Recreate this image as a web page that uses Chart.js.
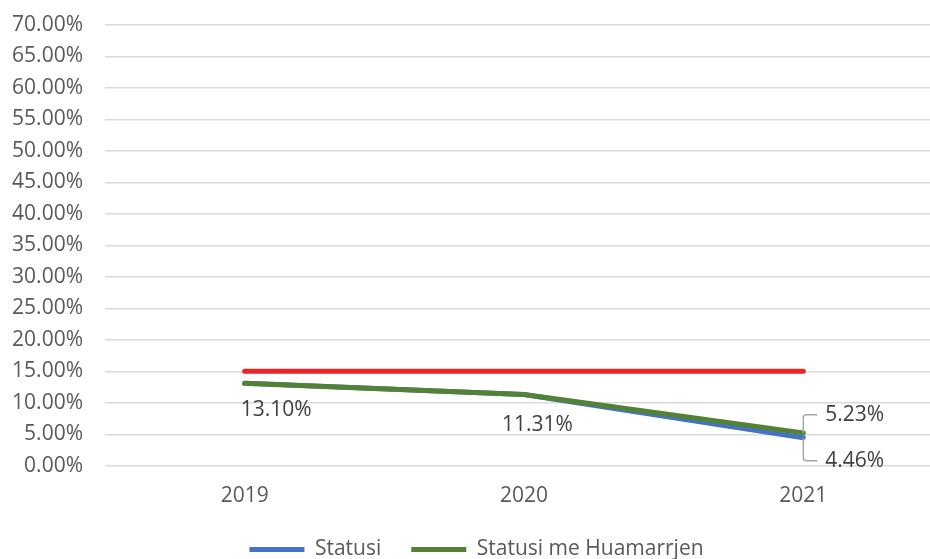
<!DOCTYPE html>
<html>
<head>
<meta charset="utf-8">
<script src="https://cdn.jsdelivr.net/npm/chart.js@4/dist/chart.umd.min.js"></script>
<style>
    html, body { margin: 0; padding: 0; background: #fff; overflow: hidden; }
    #caja { width: 943px; height: 559px; }
</style>
</head>
<body>
<div id="caja"><canvas id="myChart1"></canvas></div>
<script>

// DATOS
var anios = ['2019', '2020', '2021'];
var statusi = [13.10, 11.31, 4.46];
var statusiHuamarrjen = [13.10, 11.31, 5.23];
var kufiri = [15, 15, 15];

var colores = {
    azul: '#4472c4',
    verde: '#548235',
    rojo: '#ec2227',
    texto: '#595959',
    etiqueta: '#404040',
    rejilla: '#d9d9d9',
    guia: '#a6a6a6'
};

var fuente = "'Open Sans', 'Noto Sans', sans-serif";
var tam = 21;

// ETIQUETAS DE VALOR (serie, punto, desplazamiento del texto)
var etiquetas = [
    { serie: 1, punto: 0, dx: -4, dy: 27 },
    { serie: 1, punto: 1, dx: -22, dy: 30 },
    { serie: 1, punto: 2, dx: 22, dy: -18, guia: true },
    { serie: 0, punto: 2, dx: 22, dy: 23, guia: true }
];

const plugEtiquetas = {
    id: 'plugEtiquetas',
    afterDatasetsDraw(chart) {
        var ctx = chart.ctx;
        var sx = chart.scales.x;
        var sy = chart.scales.y;
        ctx.save();
        ctx.font = tam + 'px ' + fuente;
        ctx.textBaseline = 'middle';
        ctx.textAlign = 'left';

        etiquetas.forEach(function (e) {
            var valor = chart.data.datasets[e.serie].data[e.punto];
            var px = sx.getPixelForValue(e.punto);
            var py = sy.getPixelForValue(valor);
            var tx = px + e.dx;
            var ty = py + e.dy;

            // LINEA GUIA
            if (e.guia) {
                ctx.strokeStyle = colores.guia;
                ctx.lineWidth = 1.5;
                ctx.beginPath();
                ctx.moveTo(tx - 8, ty);
                ctx.lineTo(px + 3, ty);
                ctx.quadraticCurveTo(px, ty, px, ty + (py > ty ? 3 : -3));
                ctx.lineTo(px, py);
                ctx.stroke();
            }

            ctx.fillStyle = colores.etiqueta;
            ctx.fillText(valor.toFixed(2) + '%', tx, ty);
        });
        ctx.restore();
    }
};

function dibujar() {
    return new Chart('myChart1', {
        type: 'line',
        data: {
            labels: anios,
            datasets: [{
                label: 'Statusi',
                data: statusi,
                borderColor: colores.azul,
                backgroundColor: colores.azul,
                borderWidth: 5,
                order: 2
            }, {
                label: 'Statusi me Huamarrjen',
                data: statusiHuamarrjen,
                borderColor: colores.verde,
                backgroundColor: colores.verde,
                borderWidth: 5,
                order: 1
            }, {
                label: 'Kufiri',
                data: kufiri,
                borderColor: colores.rojo,
                backgroundColor: colores.rojo,
                borderWidth: 5,
                order: 0
            }]
        },
        options: {
            responsive: true,
            maintainAspectRatio: false,
            animation: false,
            elements: {
                point: { radius: 0, hoverRadius: 0, pointStyle: 'line' },
                line: { tension: 0, borderCapStyle: 'round', borderJoinStyle: 'round', fill: false }
            },
            layout: {
                autoPadding: false,
                padding: { left: 10, right: 0, top: 25, bottom: -11 }
            },
            scales: {
                x: {
                    offset: true,
                    grid: { display: false, drawTicks: false },
                    border: { display: false },
                    afterFit: function (s) { s.height = s.height - 18; },
                    ticks: {
                        color: colores.texto,
                        font: { family: fuente, size: tam },
                        padding: 18
                    }
                },
                y: {
                    min: 0,
                    max: 70,
                    grid: { color: colores.rejilla, lineWidth: 1.5, drawTicks: false },
                    border: { display: false },
                    // ancho fijo del eje y sin margen extra arriba
                    afterFit: function (s) {
                        s.width = 95;
                        s.paddingTop = 0;
                    },
                    ticks: {
                        stepSize: 5,
                        color: colores.texto,
                        font: { family: fuente, size: tam },
                        padding: 22,
                        callback: function (v) { return v.toFixed(2) + '%'; }
                    }
                }
            },
            plugins: {
                tooltip: { enabled: false },
                legend: {
                    position: 'bottom',
                    labels: {
                        color: colores.texto,
                        font: { family: fuente, size: tam },
                        usePointStyle: true,
                        pointStyleWidth: 55,
                        padding: 30,
                        sort: function (a, b) { return a.datasetIndex - b.datasetIndex; },
                        filter: function (item) { return item.datasetIndex !== 2; }
                    }
                }
            }
        },
        plugins: [plugEtiquetas]
    });
}

// ESPERAR LA FUENTE ANTES DE MEDIR LOS TEXTOS
var mainChart;
document.fonts.load(tam + "px 'Open Sans'").then(function () {
    mainChart = dibujar();
}, function () {
    mainChart = dibujar();
});
</script>
</body>
</html>
